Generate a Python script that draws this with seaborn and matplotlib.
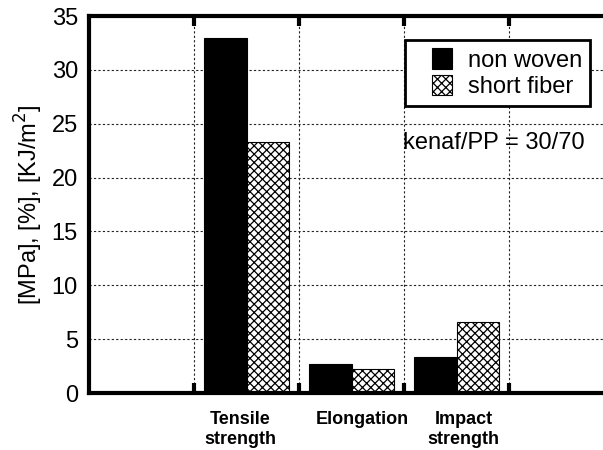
import pandas as pd
import seaborn as sns
import matplotlib.pyplot as plt
from matplotlib.patches import Rectangle
from matplotlib.legend_handler import HandlerPatch
from matplotlib.transforms import ScaledTranslation

# data
categories = ["", "Tensile\nstrength", "Elongation", "Impact\nstrength", " "]
props = ["Tensile\nstrength", "Elongation", "Impact\nstrength"]
non_woven = [33.0, 2.7, 3.3]
short_fiber = [23.3, 2.2, 6.6]
series = ["non woven", "short fiber"]

df = pd.DataFrame({
    "prop": props * 2,
    "value": non_woven + short_fiber,
    "type": [series[0]] * 3 + [series[1]] * 3,
})

sns.set_style("white", {"text.color": "black", "axes.labelcolor": "black",
                        "xtick.color": "black", "ytick.color": "black"})
plt.rcParams["font.family"] = ["Liberation Sans", "DejaVu Sans"]
plt.rcParams["hatch.linewidth"] = 0.9

fig = plt.figure(figsize=(6.03, 4.5), dpi=100)
ax = fig.add_axes([89 / 603, 1 - 393 / 450, 525 / 603, 377 / 450])

sns.barplot(data=df, x="prop", y="value", hue="type", order=categories,
            hue_order=series, palette=["black", "white"], width=0.81,
            edgecolor="black", linewidth=0.8, saturation=1, ax=ax)

for bar in ax.containers[1]:
    bar.set_hatch("xxxx")

ax.set_xlim(-0.5, 4.5)
ax.set_ylim(0, 35)
ax.set_yticks(range(0, 36, 5))
ax.tick_params(axis="y", labelsize=17, direction="in", length=7, width=3, pad=8,
               colors="black")

# gridlines / ticks between categories, labels on category centres
ax.set_xticks([0.5, 1.5, 2.5, 3.5])
ax.set_xticklabels([])
ax.set_xticks([1, 2, 3], minor=True)
ax.set_xticklabels(props, minor=True, fontsize=13, fontweight="bold")
ax.tick_params(axis="x", which="major", direction="in", length=7, width=3,
               top=True, bottom=True, colors="black")
ax.tick_params(axis="x", which="minor", length=0, pad=13, labelcolor="black")
shifts = [-6, 11, 7]
for lab, dx in zip(ax.get_xticklabels(minor=True), shifts):
    lab.set_transform(lab.get_transform() + ScaledTranslation(dx / 100, 0, fig.dpi_scale_trans))

ax.grid(True, which="major", color="#222222", linestyle=(0, (2, 2)), linewidth=0.8)
ax.set_axisbelow(True)

for s in ax.spines.values():
    s.set_linewidth(3)
    s.set_color("black")

ax.set_xlabel("")
ax.set_ylabel(r"[MPa], [%], [KJ/m$^2$]", fontsize=17, labelpad=5, color="black")


# square legend key placed at the right end of the handle area
def square_key(legend, orig_handle, xdescent, ydescent, width, height, fontsize):
    side = height
    return Rectangle((-xdescent + width - side, -ydescent), side, side)


leg = ax.legend(loc="upper left", bbox_to_anchor=(0.602, 0.936), fontsize=17,
                frameon=True, fancybox=False, handlelength=1.65, handleheight=0.95,
                handletextpad=0.65, labelspacing=0.12, borderpad=0.35,
                borderaxespad=0, title=None, labelcolor="black",
                handler_map={Rectangle: HandlerPatch(patch_func=square_key)})
leg.get_frame().set_edgecolor("black")
leg.get_frame().set_linewidth(2)
leg.get_frame().set_alpha(1)
for h in leg.legend_handles:
    h.set_edgecolor("black")
leg.legend_handles[1].set_hatch("xxxx")

ax.text(0.598, 0.663, "kenaf/PP = 30/70", transform=ax.transAxes,
        fontsize=17, va="center", ha="left", color="black")

plt.savefig("out.png", dpi=100)
plt.close()
